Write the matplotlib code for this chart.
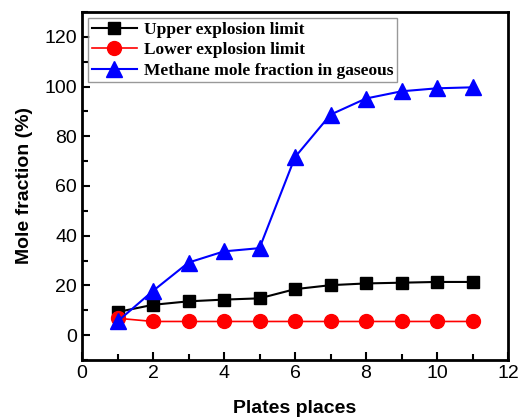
import matplotlib
matplotlib.use("Agg")
import matplotlib.pyplot as plt
from matplotlib.ticker import MultipleLocator

plates = [1, 2, 3, 4, 5, 6, 7, 8, 9, 10, 11]
upper = [9.3, 12.2, 13.6, 14.3, 14.8, 18.5, 20.1, 20.8, 21.1, 21.4, 21.4]
lower = [6.8, 5.5, 5.5, 5.5, 5.5, 5.5, 5.5, 5.5, 5.5, 5.5, 5.5]
methane = [5.5, 17.8, 29.2, 33.7, 35.0, 71.6, 88.7, 95.2, 98.1, 99.3, 99.7]

fig = plt.figure(figsize=(5.22, 4.19), dpi=100)
ax = fig.add_axes([82/522, 1-360/419, 426/522, 348/419])

ax.plot(plates, upper, color='black', marker='s', markersize=9, lw=1.5, label='Upper explosion limit')
ax.plot(plates, lower, color='red', marker='o', markersize=10, lw=1.2, label='Lower explosion limit')
ax.plot(plates, methane, color='blue', marker='^', markersize=11, lw=1.5, label='Methane mole fraction in gaseous')

ax.set_xlim(0, 12)
ax.set_ylim(-10, 130)
ax.xaxis.set_major_locator(MultipleLocator(2))
ax.xaxis.set_minor_locator(MultipleLocator(1))
ax.yaxis.set_minor_locator(MultipleLocator(10))
ax.set_yticks(range(0, 121, 20))
ax.tick_params(which='both', direction='in', width=1.5, labelsize=14, top=False, right=False)
ax.tick_params(which='major', length=6)
ax.tick_params(which='minor', length=4)
for s in ax.spines.values():
    s.set_linewidth(2)
for lab in ax.get_xticklabels() + ax.get_yticklabels():
    lab.set_family('Liberation Sans')

ax.set_xlabel('Plates places', fontsize=14, fontweight='bold', family='Liberation Sans', labelpad=13)
ax.set_ylabel('Mole fraction (%)', fontsize=14, fontweight='bold', family='Liberation Sans', labelpad=8)

leg = ax.legend(loc='upper left', prop={'family': 'Liberation Serif', 'weight': 'bold', 'size': 12.5},
                frameon=True, fancybox=False, edgecolor='gray', borderpad=0.2, labelspacing=0.25,
                handlelength=2.6, handletextpad=0.4, borderaxespad=0.35)
leg.get_frame().set_linewidth(1)

fig.savefig('out.png', dpi=100)
